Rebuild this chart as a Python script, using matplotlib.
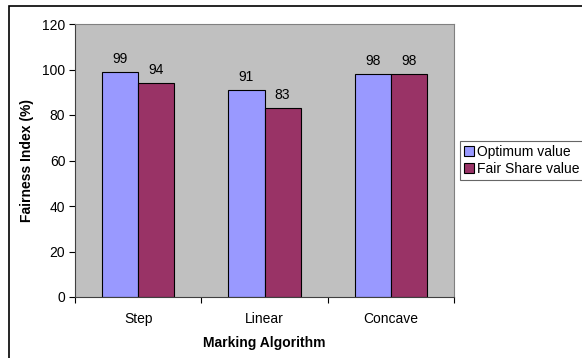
import matplotlib.pyplot as plt
import numpy as np
from matplotlib.patches import Rectangle

categories = ["Step", "Linear", "Concave"]
optimum = [99, 91, 98]
fair_share = [94, 83, 98]
series_names = ["Optimum value", "Fair Share value"]

plt.rcParams['font.family'] = ['Liberation Sans', 'DejaVu Sans']
fs = 10

W, H = 582, 358
fig = plt.figure(figsize=(W / 100, H / 100), dpi=100)

# outer chart frame (runs off the right and bottom edges)
fig.patches.append(Rectangle((9 / W, -0.1), 1.2, (H - 6) / H + 0.1, transform=fig.transFigure,
                             fill=False, edgecolor='black', linewidth=1.2))

ax = fig.add_axes([75 / W, 1 - 297 / H, (454 - 75) / W, (297 - 24) / H])
ax.set_facecolor('#C0C0C0')

x = np.arange(len(categories))
w = 1 / 3.5
b1 = ax.bar(x - w / 2, optimum, w, color='#9999FF', edgecolor='black', linewidth=0.8,
            label=series_names[0])
b2 = ax.bar(x + w / 2, fair_share, w, color='#993366', edgecolor='black', linewidth=0.8,
            label=series_names[1])
for bars, vals in ((b1, optimum), (b2, fair_share)):
    for r, v in zip(bars, vals):
        ax.text(r.get_x() + r.get_width() / 2, v + 2.5, str(v), ha='center', va='bottom',
                fontsize=fs)

ax.set_xlim(-0.5, len(categories) - 0.5)
ax.set_ylim(0, 120)
ax.set_yticks(range(0, 121, 20))
ax.set_xticks(np.arange(len(categories) + 1) - 0.5)
ax.set_xticklabels([])
ax.set_xticks(x, minor=True)
ax.set_xticklabels(categories, minor=True)
ax.tick_params(axis='x', which='minor', length=0, pad=11, labelsize=fs)
ax.tick_params(axis='x', which='major', length=4, width=0.8)
ax.tick_params(axis='y', length=4, width=0.8, labelsize=fs, pad=3)
for s in ('top', 'right'):
    ax.spines[s].set_color('#808080')
for s in ('left', 'bottom'):
    ax.spines[s].set_color('#404040')

ax.set_xlabel("Marking Algorithm", fontsize=fs, fontweight='bold', labelpad=7)
ax.set_ylabel("Fairness Index (%)", fontsize=fs, fontweight='bold', labelpad=6)

leg = ax.legend(loc='upper left', bbox_to_anchor=(460 / W, 1 - 141 / H), bbox_transform=fig.transFigure,
                fontsize=fs, frameon=True, fancybox=False, edgecolor='#404040',
                handlelength=0.7, handleheight=0.7, handletextpad=0.2, borderpad=0.3,
                labelspacing=0.2, borderaxespad=0)
leg.get_frame().set_linewidth(0.8)

fig.savefig("out.png", dpi=100)
